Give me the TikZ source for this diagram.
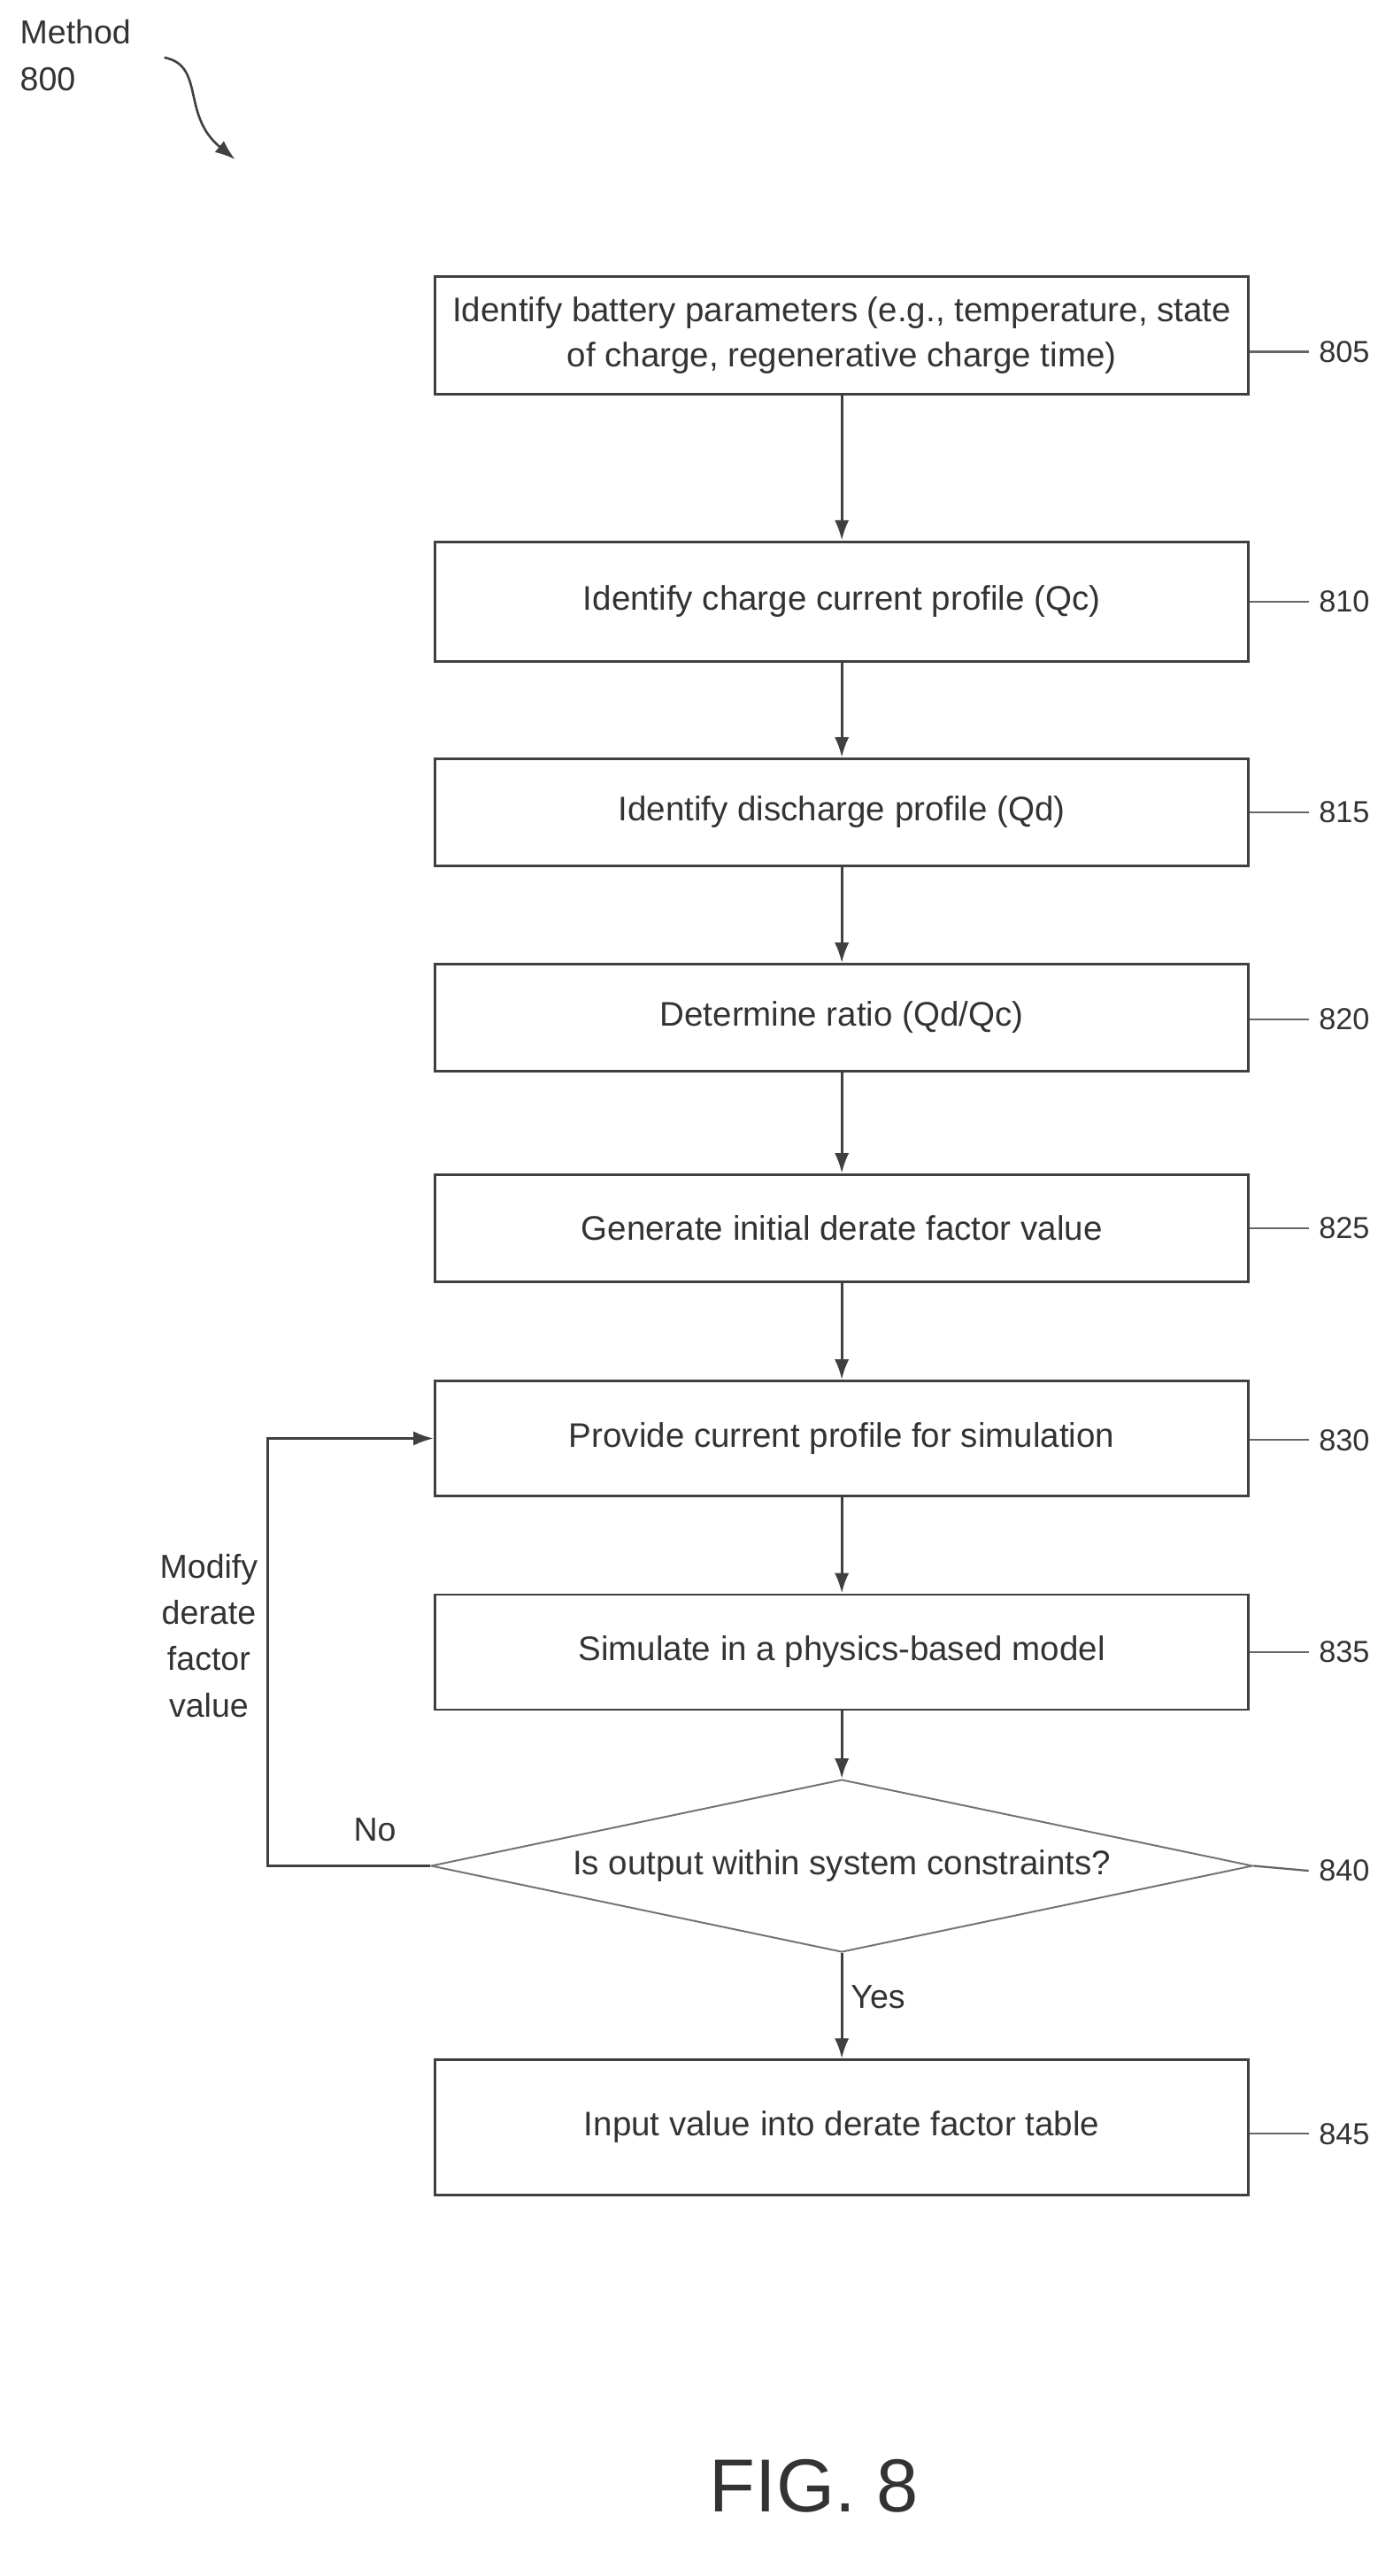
\documentclass[tikz,border=0pt]{standalone}
\usepackage{fontspec}
\setmainfont{Liberation Sans}
\usetikzlibrary{shapes.geometric,arrows.meta}
\begin{document}
\begin{tikzpicture}[x=0.02cm,y=-0.02cm,
  box/.style={draw=black!75,line width=0.9pt,minimum width=9.9cm,align=center,font=\fontsize{11.8}{15.5}\selectfont,text=black!80},
  arr/.style={draw=black!75,line width=0.9pt,-{Latex[length=7pt,width=5pt]}},
  lbl/.style={font=\fontsize{10.5}{12}\selectfont,text=black!80,anchor=west},
  lead/.style={draw=black!60,line width=0.7pt}]
\useasboundingbox (0,0) rectangle (838,1567);
\node[box,minimum height=1.44cm] (b805) at (512,204) {Identify battery parameters (e.g., temperature, state\\of charge, regenerative charge time)};
\node[box,minimum height=1.46cm] (b810) at (512,366) {Identify charge current profile (Qc)};
\node[box,minimum height=1.3cm] (b815) at (512,494) {Identify discharge profile (Qd)};
\node[box,minimum height=1.3cm] (b820) at (512,619) {Determine ratio (Qd/Qc)};
\node[box,minimum height=1.3cm] (b825) at (512,747) {Generate initial derate factor value};
\node[box,minimum height=1.4cm] (b830) at (512,875) {Provide current profile for simulation};
\node[box,minimum height=1.4cm] (b835) at (512,1005) {Simulate in a physics-based model};
\node[diamond,draw=black!55,line width=0.6pt,aspect=4.76,minimum width=10cm,minimum height=2.1cm,inner sep=0pt,font=\fontsize{11.8}{15}\selectfont,text=black!80] (d840) at (512,1135) {Is output within system constraints?};
\node[box,minimum height=1.64cm] (b845) at (512,1294) {Input value into derate factor table};
\foreach \a/\b in {b805/b810,b810/b815,b815/b820,b820/b825,b825/b830,b830/b835,b835/d840,d840/b845}
  \draw[arr] (\a.south) -- (\b.north);
\coordinate (c1) at (163,1135);
\coordinate (c2) at (163,875);
\draw[arr] (d840.west) -- (c1) -- (c2) -- (b830.west);
\node[font=\fontsize{11.5}{13}\selectfont,text=black!80] (no) at (228,1113) {No};
\node[font=\fontsize{11.5}{13}\selectfont,text=black!80] (yes) at (534,1215) {Yes};
\node[font=\fontsize{11.5}{16}\selectfont,text=black!80,align=center] (mod) at (127,995) {Modify\\derate\\factor\\value};
\foreach \n/\y/\t in {b805/214/805,b810/366/810,b815/494/815,b820/620/820,b825/747/825,b830/876/830,b835/1005/835,b845/1298/845}{
  \node[lbl] (l\t) at (796,\y) {\t};
  \draw[lead] (\n.east |- l\t.west) -- (l\t.west);
}
\node[lbl] (l840) at (796,1138) {840};
\draw[lead] (d840.east) -- (l840.west);
\node[font=\fontsize{11.5}{16}\selectfont,text=black!80,align=left,anchor=north west] (m800) at (6,6) {Method\\800};
\coordinate (mt) at (143,97);
\draw[arr,line width=0.8pt] (100,35) .. controls (125,40) and (110,70) .. (mt);
\node[font=\fontsize{26}{30}\selectfont,text=black!80] (fig) at (495,1512) {FIG. 8};
\end{tikzpicture}
\end{document}
